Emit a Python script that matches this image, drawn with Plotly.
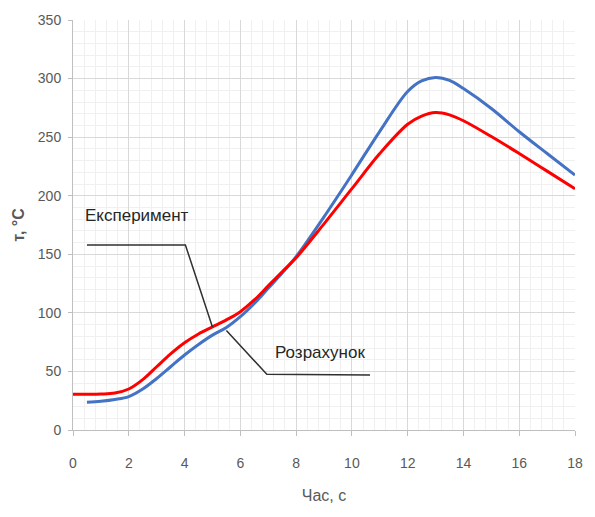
import plotly.graph_objects as go

# Experimental curve (red)
exp_t = [0, 0.5, 1, 1.5, 2, 2.5, 3, 3.5, 4, 4.5, 5, 5.5, 6, 6.5, 7, 7.5, 8, 9, 10,
         11, 12, 12.5, 13, 13.5, 14, 15, 16, 17, 18]
exp_temp = [30.5, 30.5, 30.7, 31.5, 35, 43, 54, 65, 74.5, 82, 88, 94, 101, 111, 123,
            135, 147, 176, 206, 236, 261, 268, 271, 269, 264, 250.5, 236, 221, 206]

# Calculated curve (blue)
calc_t = [0.5, 1, 1.5, 2, 2.5, 3, 3.5, 4, 4.5, 5, 5.5, 6, 6.5, 7, 7.5, 8, 9, 10,
          11, 12, 12.5, 13, 13.5, 14, 15, 16, 17, 18]
calc_temp = [23.6, 24.5, 26, 28.5, 35, 44, 54, 64, 73, 81, 87.5, 96.7, 108, 121, 134,
             148, 182, 218, 255, 289, 298, 301, 298.5, 291.5, 274.5, 254.6, 236, 217.6]

x_ticks = [0, 2, 4, 6, 8, 10, 12, 14, 16, 18]
y_ticks = [0, 50, 100, 150, 200, 250, 300, 350]

label_exp = "Експеримент"
label_calc = "Розрахунок"
x_title = "Час, с"
y_title = "т, °С"

base_family = "Liberation Sans Narrow, Arial Narrow, Arial"
tick_font = dict(family=base_family, size=14, color="#595959")

fig = go.Figure()
fig.add_trace(go.Scatter(x=calc_t, y=calc_temp, mode="lines",
                         line=dict(color="#4472c4", width=3, shape="spline", smoothing=1.0),
                         showlegend=False, hoverinfo="skip"))
fig.add_trace(go.Scatter(x=exp_t, y=exp_temp, mode="lines",
                         line=dict(color="#ff0000", width=3, shape="spline", smoothing=1.0),
                         showlegend=False, hoverinfo="skip"))

# Leader lines for the curve labels
leader_color = "#303030"
fig.add_trace(go.Scatter(x=[0.5, 4.03, 5.0], y=[158, 158, 88], mode="lines",
                         line=dict(color=leader_color, width=1.5), showlegend=False, hoverinfo="skip"))
fig.add_trace(go.Scatter(x=[5.5, 6.95, 10.65], y=[85, 47.5, 47], mode="lines",
                         line=dict(color=leader_color, width=1.5), showlegend=False, hoverinfo="skip"))

label_font = dict(family=base_family, size=17, color="#262626")
fig.add_annotation(x=2.28, y=183.5, text=label_exp, showarrow=False, font=label_font)
fig.add_annotation(x=8.84, y=66, text=label_calc, showarrow=False, font=label_font)

grid_major = "#d9d9d9"
grid_minor = "#f0f0f0"

fig.update_xaxes(range=[0, 18], tickvals=x_ticks, ticktext=[str(v) for v in x_ticks],
                 showgrid=True, gridcolor=grid_major, gridwidth=1,
                 minor=dict(dtick=0.4, tick0=0, showgrid=True, gridcolor=grid_minor, gridwidth=1),
                 showline=True, linecolor="#bfbfbf", linewidth=1,
                 ticks="outside", ticklen=5, tickcolor="#bfbfbf",
                 tickfont=tick_font, ticklabelstandoff=15,
                 title=dict(text=x_title, font=dict(family=base_family, size=16, color="#595959"),
                            standoff=20),
                 zeroline=False)
fig.update_yaxes(range=[0, 350], tickvals=y_ticks, ticktext=[str(v) for v in y_ticks],
                 showgrid=True, gridcolor=grid_major, gridwidth=1,
                 minor=dict(dtick=10, tick0=0, showgrid=True, gridcolor=grid_minor, gridwidth=1),
                 showline=True, linecolor="#bfbfbf", linewidth=1,
                 ticks="outside", ticklen=4, tickcolor="#bfbfbf",
                 tickfont=tick_font, ticklabelstandoff=4,
                 title=dict(text="<b>" + y_title + "</b>", font=dict(family=base_family, size=16, color="#595959"),
                            standoff=9),
                 zeroline=False)

fig.update_layout(width=595, height=517, margin=dict(l=73, r=15, t=20, b=87),
                  paper_bgcolor="white", plot_bgcolor="white")

fig.write_html("out.html")
